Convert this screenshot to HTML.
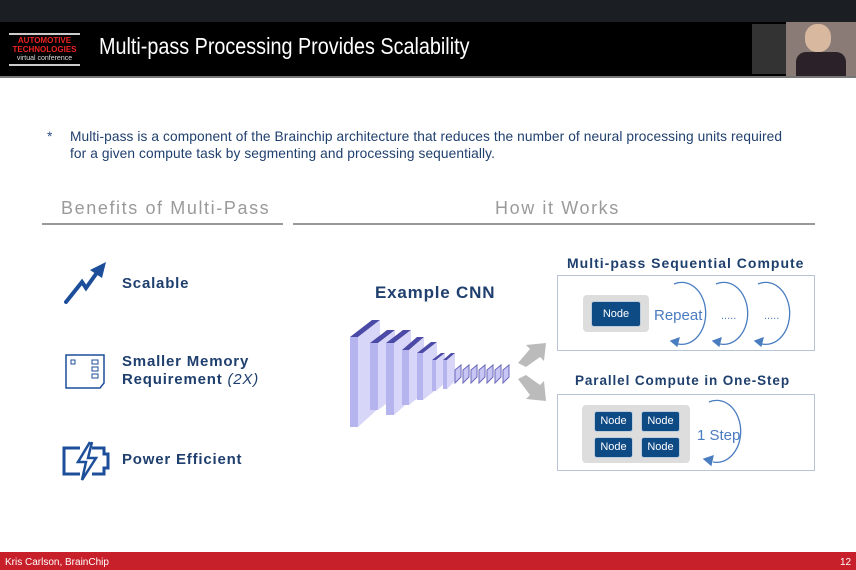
<!DOCTYPE html>
<html><head><meta charset="utf-8"><style>
body{margin:0;width:856px;height:570px;overflow:hidden;position:relative;background:#fff;font-family:"Liberation Sans",sans-serif}
.a{position:absolute;white-space:nowrap}
.b{color:#1f3f6e;font-weight:bold;letter-spacing:.8px}
.node{position:absolute;background:#0e4a84;border:1px solid #bcd;border-radius:3px;color:#fff;font-size:11px;text-align:center}
</style></head><body>
<div class="a" style="left:0;top:0;width:856px;height:22px;background:#1b1e23"></div>
<div class="a" style="left:0;top:22px;width:856px;height:54px;background:#000"></div>
<div class="a" style="left:0;top:76px;width:856px;height:2px;background:#777"></div>
<div class="a" style="left:9px;top:33px;width:71px;border-top:2px solid #ccc;border-bottom:2px solid #ccc;text-align:center;line-height:9px;padding:1px 0">
<div style="color:#e22;font-size:8px;font-weight:bold">AUTOMOTIVE</div><div style="color:#e22;font-size:8px;font-weight:bold">TECHNOLOGIES</div><div style="color:#ddd;font-size:7px">virtual conference</div></div>
<div class="a" style="left:99px;top:33px;color:#fff;font-size:23px;transform:scaleX(.86);transform-origin:0 0">Multi-pass Processing Provides Scalability</div>
<div class="a" style="left:752px;top:24px;width:36px;height:50px;background:#333"></div>
<div class="a" style="left:786px;top:22px;width:70px;height:54px;background:#8a7b76"></div>
<div class="a" style="left:805px;top:24px;width:26px;height:28px;background:#d8b9a0;border-radius:45%"></div>
<div class="a" style="left:796px;top:52px;width:50px;height:24px;background:#2a2228;border-radius:10px 10px 0 0"></div>

<div class="a" style="left:47px;top:128px;color:#2d4f87;font-size:14px">*</div>
<div class="a" style="left:70px;top:128px;color:#1f3f6e;font-size:14px;line-height:17px;letter-spacing:.1px;transform:scaleX(.98);transform-origin:0 0">Multi-pass is a component of the Brainchip architecture that reduces the number of neural processing units required<br>for a given compute task by segmenting and processing sequentially.</div>

<div class="a" style="left:61px;top:198px;color:#9a9a9a;font-size:18px;letter-spacing:1.6px">Benefits of Multi-Pass</div>
<div class="a" style="left:495px;top:198px;color:#9a9a9a;font-size:18px;letter-spacing:1.6px">How it Works</div>
<div class="a" style="left:42px;top:223px;width:241px;height:2px;background:#999"></div>
<div class="a" style="left:293px;top:223px;width:522px;height:2px;background:#999"></div>

<svg class="a" style="left:60px;top:258px" width="50" height="50"><path d="M6 44 L22 24 L26 30 L36 16" fill="none" stroke="#1d4e9a" stroke-width="4" stroke-linecap="round"/><path d="M30 12 L46 4 L42 20Z" fill="#1d4e9a"/></svg>
<div class="a b" style="left:122px;top:275px;font-size:15px">Scalable</div>
<svg class="a" style="left:64px;top:353px" width="44" height="38"><path d="M2 2 H40 V30 L36 35 H2Z" fill="none" stroke="#1d4e9a" stroke-width="1.5"/><rect x="7" y="7" width="4" height="4" fill="none" stroke="#1d4e9a"/><rect x="28" y="7" width="6" height="4" fill="none" stroke="#1d4e9a"/><rect x="28" y="14" width="6" height="4" fill="none" stroke="#1d4e9a"/><rect x="28" y="21" width="6" height="4" fill="none" stroke="#1d4e9a"/></svg>
<div class="a b" style="left:122px;top:353px;font-size:15px;line-height:18px">Smaller Memory<br>Requirement <i style="font-weight:normal">(2X)</i></div>
<svg class="a" style="left:60px;top:440px" width="52" height="42"><path d="M20 8 H4 V34 H20 M32 8 H44 V14 H48 V28 H44 V34 H32" fill="none" stroke="#1d4e9a" stroke-width="3"/><path d="M30 2 L18 22 H26 L22 40 L36 18 H28 L32 2" fill="none" stroke="#1d4e9a" stroke-width="2.5"/></svg>
<div class="a b" style="left:122px;top:451px;font-size:15px">Power Efficient</div>

<div class="a b" style="left:375px;top:283px;font-size:17px">Example CNN</div>
<svg class="a" style="left:345px;top:315px" width="170" height="115">
<g>
<polygon points="5,22 27,5 35,5 13,22" fill="#4b4aa6"/><polygon points="5,22 13,22 13,112 5,112" fill="#b6b4ee"/><polygon points="13,22 35,5 35,92 13,112" fill="#d8d6f8"/>
<polygon points="25,28 42,15 50,15 33,28" fill="#4b4aa6"/><polygon points="25,28 33,28 33,95 25,95" fill="#b6b4ee"/><polygon points="33,28 50,15 50,82 33,95" fill="#d8d6f8"/>
<polygon points="41,28 58,15 66,15 49,28" fill="#4b4aa6"/><polygon points="41,28 49,28 49,100 41,100" fill="#b6b4ee"/><polygon points="49,28 66,15 66,85 49,100" fill="#d8d6f8"/>
<polygon points="57,35 72,22 79,22 64,35" fill="#4b4aa6"/><polygon points="57,35 64,35 64,90 57,90" fill="#b6b4ee"/><polygon points="64,35 79,22 79,78 64,90" fill="#d8d6f8"/>
<polygon points="72,38 86,27 92,27 78,38" fill="#4b4aa6"/><polygon points="72,38 78,38 78,85 72,85" fill="#b6b4ee"/><polygon points="78,38 92,27 92,74 78,85" fill="#d8d6f8"/>
<polygon points="87,45 96,38 100,38 91,45" fill="#4b4aa6"/><polygon points="87,45 91,45 91,76 87,76" fill="#b6b4ee"/><polygon points="91,45 100,38 100,68 91,76"  fill="#d8d6f8"/>
<polygon points="98,45 106,38 110,38 102,45" fill="#4b4aa6"/><polygon points="98,45 102,45 102,74 98,74" fill="#b6b4ee"/><polygon points="102,45 110,38 110,66 102,74" fill="#d8d6f8"/>
<g fill="#c8c6f4" stroke="#6a68bb" stroke-width="1"><path d="M110 55 L116 50 V62 L110 68Z"/><path d="M118 55 L124 50 V62 L118 68Z"/><path d="M126 55 L132 50 V62 L126 68Z"/><path d="M134 55 L140 50 V62 L134 68Z"/><path d="M142 55 L148 50 V62 L142 68Z"/><path d="M150 55 L156 50 V62 L150 68Z"/><path d="M158 55 L164 50 V62 L158 68Z"/></g>
</g></svg>
<svg class="a" style="left:512px;top:335px" width="40" height="75"><path d="M6 28 L18 14 L14 10 L34 8 L32 26 L28 22 L14 32Z" fill="#bbb"/><path d="M6 44 L14 40 L28 50 L32 46 L34 66 L14 64 L18 60Z" fill="#bbb"/></svg>

<div class="a b" style="left:567px;top:255px;font-size:14px;letter-spacing:1px">Multi-pass Sequential Compute</div>
<div class="a" style="left:557px;top:275px;width:258px;height:76px;border:1.5px solid #b8c4d6;box-sizing:border-box"></div>
<div class="a" style="left:583px;top:295px;width:66px;height:37px;background:#ddd;border-radius:4px"></div>
<div class="node" style="left:591px;top:301px;width:48px;height:24px;line-height:24px">Node</div>
<div class="a" style="left:654px;top:307px;color:#4a7cc0;font-size:15px">Repeat</div>
<div class="a" style="left:721px;top:310px;color:#4a7cc0;font-size:11px">.....</div>
<div class="a" style="left:764px;top:310px;color:#4a7cc0;font-size:11px">.....</div>
<svg class="a" style="left:660px;top:280px" width="150" height="70" fill="none" stroke="#4a7cc0" stroke-width="1.3">
<path d="M14 4 A24 31 0 1 1 18 64"/><path d="M56 4 A24 31 0 1 1 60 64"/><path d="M98 4 A24 31 0 1 1 102 64"/>
<path d="M11 61 L19 58 L17 66Z" fill="#4a7cc0"/><path d="M53 61 L61 58 L59 66Z" fill="#4a7cc0"/><path d="M95 61 L103 58 L101 66Z" fill="#4a7cc0"/></svg>

<div class="a b" style="left:575px;top:373px;font-size:13.5px;letter-spacing:.9px">Parallel Compute in One-Step</div>
<div class="a" style="left:557px;top:394px;width:258px;height:77px;border:1.5px solid #b8c4d6;box-sizing:border-box"></div>
<div class="a" style="left:582px;top:405px;width:108px;height:58px;background:#ddd;border-radius:4px"></div>
<div class="node" style="left:594px;top:411px;width:37px;height:19px;line-height:19px">Node</div>
<div class="node" style="left:641px;top:411px;width:37px;height:19px;line-height:19px">Node</div>
<div class="node" style="left:594px;top:437px;width:37px;height:19px;line-height:19px">Node</div>
<div class="node" style="left:641px;top:437px;width:37px;height:19px;line-height:19px">Node</div>
<div class="a" style="left:697px;top:427px;color:#4a7cc0;font-size:15px">1 Step</div>
<svg class="a" style="left:695px;top:398px" width="60" height="72" fill="none" stroke="#4a7cc0" stroke-width="1.3">
<path d="M14 4 A24 31 0 1 1 18 64"/><path d="M9 61 L18 58 L16 67Z" fill="#4a7cc0"/></svg>

<div class="a" style="left:0;top:552px;width:856px;height:18px;background:#c8202a"></div>
<div class="a" style="left:5px;top:557px;color:#fff;font-size:10px">Kris Carlson, BrainChip</div>
<div class="a" style="left:840px;top:557px;color:#fff;font-size:10px">12</div>
</body></html>
